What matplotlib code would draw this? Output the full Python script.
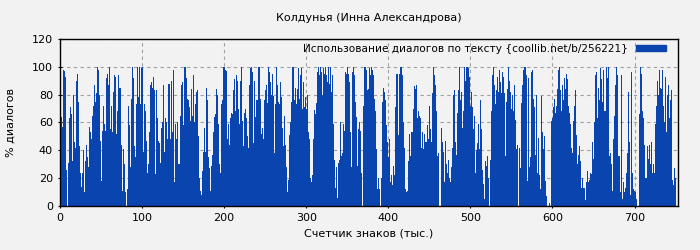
import numpy as np
import matplotlib
matplotlib.use('Agg')
import matplotlib.pyplot as plt
from matplotlib.patches import Patch

title = 'Колдунья (Инна Александрова)'
legend_label = 'Использование диалогов по тексту {coollib.net/b/256221}'
xlabel = 'Счетчик знаков (тыс.)'
ylabel = '% диалогов'

# % диалогов, прочитано с картинки слева направо (по столбцу пикселей)
vals_0 = [48,64,57,98,97,93,26,0,31,63,71,66,32,80,46,42,90,95,75,43,24,14,24,40,10,32,44,35,28,57,
          53,48,65,72,87,75,81,100,98,80,47,18,54,72,59,54,92,95,87,100,55,72,53,82]
vals_1 = [94,93,52,68,94,85,85,44,11,41,30,10,0,12,72,58,28,77,100,92,43,35,73,100,78,100,73,99,100,39,
          73,68,47,24,30,53,87,89,85,93,83,23,83,63,47,45,31,56,60,87,39,63,60,48,88,88]
vals_2 = [48,90,53,98,17,59,48,60,30,65,87,89,58,100,100,92,77,76,71,61,84,65,94,60,73,82,83,50,20,11,
          8,25,39,56,39,85,76,35,27,11,29,37,53,64,66,84,80,59,30,24,73,76,100,100,98,97]
vals_3 = [48,59,44,63,67,66,83,91,68,94,90,70,59,90,100,61,43,67,70,63,50,42,87,99,100,96,45,90,64,76,
          76,100,100,77,52,56,48,76,83,87,74,100,96,89,80,95,79,38,73,100,87,75,73,89,78,56]
vals_4 = [43,65,44,28,10,19,51,60,75,100,100,76,85,73,84,99,77,94,99,70,89,71,78,70,80,53,48,20,17,22,
          48,69,66,74,96,100,94,100,96,80,99,95,100,94,89,100,88,100,82,94,59,33,13,28,6,31]
vals_5 = [33,60,36,38,59,54,96,95,100,95,89,53,28,96,100,94,75,64,29,55,60,54,24,0,72,100,100,98,83,84,
          99,94,100,98,94,77,68,41,12,20,12,0,20,75,85,82,76,58,46,35,48,17,22,15,29,22]
vals_6 = [71,95,95,51,95,100,100,94,60,42,12,10,11,32,52,36,53,70,86,84,87,63,68,65,63,42,53,41,52,46,
          46,58,48,72,55,46,81,100,94,87,68,36,38,0,0,56,46,39,17,47,30,24,33,20,17,28]
vals_7 = [42,80,83,46,37,67,83,100,76,82,56,68,100,90,100,100,99,93,72,82,71,55,65,24,40,45,59,41,76,55,
          26,16,5,32,29,36,20,0,33,68,94,100,87,73,83,93,82,98,89,81,96,93,81,36,75,84]
vals_8 = [100,90,82,70,80,68,87,62,41,44,0,42,27,74,87,98,100,100,94,18,92,28,35,96,98,77,71,37,80,24,
          49,22,12,79,53,41,50,18,7,0,0,2,0,61,63,71,77,67,72,84,98,100,83,68,87,76]
vals_9 = [92,84,95,91,72,67,59,42,38,61,72,83,51,30,37,43,32,13,20,13,13,4,17,25,17,19,24,23,46,34,
          60,94,96,63,85,76,99,91,75,98,68,68,100,92,100,36,38,30,11,48,65,87,100,94,36,36]
vals_10 = [10,94,5,17,10,13,24,38,82,46,8,96,24,12,11,10,5,0,0,66,100,95,68,63,44,20,43,34,44,30,
           46,24,30,24,59,72,90,80,98,85,84,98,72,60,93,53,80,87,63,76,83,19,15,27,20]

vals = vals_0 + vals_1 + vals_2 + vals_3 + vals_4 + vals_5 + vals_6 + vals_7 + vals_8 + vals_9 + vals_10
total_k = 750  # тыс. знаков
step = total_k / len(vals)
x = (np.arange(len(vals)) + 0.5) * step

bg = '#f2f2f2'
blue = '#0a44ae'

fig = plt.figure(figsize=(7, 2.5), dpi=100, facecolor=bg)
ax = fig.add_axes([0.0857, 0.176, 0.883, 0.668])
ax.set_facecolor(bg)
ax.bar(x, vals, width=step, color=blue, linewidth=0)

ax.set_xlim(0, 753)
ax.set_ylim(0, 120)
ax.set_xticks(np.arange(0, 701, 100))
ax.set_yticks(np.arange(0, 121, 20))
ax.set_axisbelow(True)
ax.grid(True, color='#a0a0a0', linestyle=(0, (3, 3)), linewidth=0.8)
ax.tick_params(labelsize=8, length=3, direction='inout')
for s in ax.spines.values():
    s.set_linewidth(1)

ax.set_title(title, fontsize=8, pad=13)
ax.set_xlabel(xlabel, fontsize=8)
ax.set_ylabel(ylabel, fontsize=8, labelpad=12)

ax.legend(handles=[Patch(color=blue, label=legend_label)], loc='upper right', frameon=False,
          bbox_to_anchor=(1.0, 1.04),
          markerfirst=False, fontsize=7.6, handlelength=2.9, handleheight=0.55,
          borderaxespad=0.6, borderpad=0.5, handletextpad=0.8)

fig.savefig('out.png', dpi=100, facecolor=bg)
